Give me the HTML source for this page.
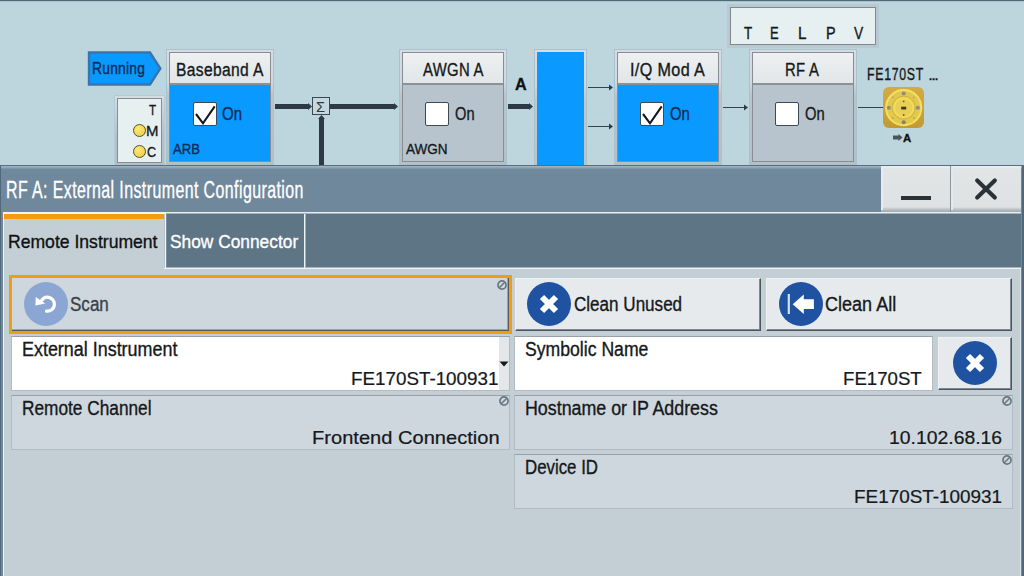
<!DOCTYPE html>
<html>
<head>
<meta charset="utf-8">
<title>RF A: External Instrument Configuration</title>
<style>
html,body{margin:0;padding:0;}
body{width:1024px;height:576px;overflow:hidden;position:relative;background:#bdd6de;font-family:"Liberation Sans",sans-serif;color:#15191c;}
.abs{position:absolute;}
.t{position:absolute;white-space:nowrap;line-height:1;transform-origin:0 0;}
.tr{position:absolute;white-space:nowrap;line-height:1;transform-origin:100% 0;text-align:right;}
/* block diagram */
.blk{position:absolute;top:50px;height:114px;width:106px;margin-left:1px;box-sizing:border-box;border:2px solid transparent;background:linear-gradient(#888d94,#888d94) padding-box,linear-gradient(to bottom,#d4dde3 0,#d0d9df 28%,#b9c4cb 40%,#b4c0c7 100%) border-box;box-shadow:0 0 0 1px #abc2cc;}
.blk .hd{position:absolute;left:1px;top:1px;right:1px;height:30px;background:linear-gradient(#eef0f1,#e2e6e8);}
.blk .sep{position:absolute;left:1px;right:1px;top:31px;height:2px;background:#8b9196;}
.blk .bd{position:absolute;left:1px;right:1px;top:33px;bottom:1px;}
.blue{background:#0a99fe;}
.grey{background:#b7c4ce;}
.cb{position:absolute;width:24px;height:24px;background:#fff;border:1px solid #3c4a55;border-radius:2px;box-sizing:border-box;}
.thick{position:absolute;background:#2c3a45;}
.thin{position:absolute;background:#33434e;height:1px;}
/* dialog */
#dlg{position:absolute;left:0;top:165px;width:1024px;height:411px;background:#70889c;}
.btn{position:absolute;box-sizing:border-box;background:#e7eaed;border-right:1px solid #4a5760;border-bottom:1px solid #4a5760;border-top:1px solid #eef1f3;border-left:1px solid #eef1f3;box-shadow:inset -1px -1px 0 #7d8890;}
.fld{position:absolute;box-sizing:border-box;border:1px solid #b1bbc2;border-top-color:#98a1a8;background:#cfd7de;}
.fld.w{background:#fff;}
.circ{position:absolute;width:44px;height:44px;border-radius:50%;background:#2052a2;}
.no{position:absolute;width:10px;height:10px;}
</style>
</head>
<body>
<!-- top line -->
<div class="abs" style="left:0;top:0;width:1024px;height:1px;background:#506a77;"></div><div class="abs" style="left:0;top:1px;width:1024px;height:1px;background:#a9c3cc;"></div>

<!-- Running flag -->
<svg class="abs" style="left:86px;top:49px;" width="78" height="40" viewBox="0 0 78 40">
  <path d="M3,3.5 L64,3.5 L74.3,19.5 L64,35.5 L3,35.5 Z" fill="#0a99fe" stroke="#3a74ad" stroke-width="2.4" stroke-linejoin="miter"/>
</svg>

<!-- T M C box -->
<div class="abs" style="left:115px;top:96px;width:49px;height:69px;box-sizing:border-box;border:2px solid transparent;background:linear-gradient(#888d94,#888d94) padding-box,linear-gradient(to bottom,#d4dde3 0,#c4ced4 30%,#b4c0c7 60%) border-box;box-shadow:0 0 0 1px #b3cbd4;"><div style="position:absolute;left:1px;top:1px;right:1px;bottom:1px;background:#e6f0f1;"></div></div>
<div class="abs" style="left:133px;top:124px;width:11px;height:11px;border-radius:50%;background:radial-gradient(circle at 40% 35%,#fde878,#ecc93c);border:1px solid #55522e;"></div>
<div class="abs" style="left:133px;top:145px;width:11px;height:11px;border-radius:50%;background:radial-gradient(circle at 40% 35%,#fde878,#ecc93c);border:1px solid #55522e;"></div>

<!-- Baseband A -->
<div class="blk" style="left:166px;"><div class="hd"></div><div class="sep"></div><div class="bd blue"></div></div>
<div class="cb" style="left:193px;top:102px;"></div>
<svg class="abs" style="left:193px;top:102px;" width="24" height="24" viewBox="0 0 24 24"><path d="M3,12 L10,21.3 L21.7,4.4" fill="none" stroke="#15181b" stroke-width="2.1"/></svg>

<!-- lines baseband -> sigma -> awgn -->
<div class="thick" style="left:275px;top:104px;width:34px;height:5px;"></div>
<svg class="abs" style="left:308px;top:103px;" width="4" height="7" viewBox="0 0 4 7"><path d="M0,0 L4,3.5 L0,7 Z" fill="#2c3a45"/></svg>
<div class="abs" style="left:312px;top:97px;width:18px;height:18px;box-sizing:border-box;border:1.5px solid #3a4852;background:#c4d8de;"></div>
<div class="thick" style="left:330px;top:104px;width:65px;height:5px;"></div>
<svg class="abs" style="left:394px;top:103px;" width="4" height="7" viewBox="0 0 4 7"><path d="M0,0 L4,3.5 L0,7 Z" fill="#2c3a45"/></svg>
<div class="thick" style="left:319px;top:118px;width:5px;height:47px;"></div>
<svg class="abs" style="left:318px;top:115px;" width="7" height="4" viewBox="0 0 7 4"><path d="M0,4 L3.5,0 L7,4 Z" fill="#2c3a45"/></svg>

<!-- AWGN A -->
<div class="blk" style="left:399px;"><div class="hd"></div><div class="sep"></div><div class="bd grey"></div></div>
<div class="cb" style="left:425px;top:102px;"></div>

<!-- A arrow -->
<div class="thick" style="left:508px;top:104px;width:21px;height:5px;"></div>
<svg class="abs" style="left:529px;top:103px;" width="4" height="7" viewBox="0 0 4 7"><path d="M0,0 L4,3.5 L0,7 Z" fill="#2c3a45"/></svg>

<!-- blue rect -->
<div class="abs" style="left:535px;top:50px;width:51px;height:115px;box-sizing:border-box;border:2px solid transparent;border-bottom:none;background:linear-gradient(#0a99fe,#0a99fe) padding-box,linear-gradient(to bottom,#d4dde3 0,#d0d9df 28%,#bfc9d0 45%,#b9c4cb 100%) border-box;box-shadow:0 0 0 1px #abc2cc;"></div>

<!-- thin arrows -->
<div class="thin" style="left:588px;top:87px;width:22px;"></div>
<svg class="abs" style="left:609px;top:84px;" width="4" height="7" viewBox="0 0 4 7"><path d="M0,0.5 L4,3.5 L0,6.5 Z" fill="#2c3a45"/></svg>
<div class="thin" style="left:588px;top:126px;width:22px;"></div>
<svg class="abs" style="left:609px;top:123px;" width="4" height="7" viewBox="0 0 4 7"><path d="M0,0.5 L4,3.5 L0,6.5 Z" fill="#2c3a45"/></svg>

<!-- I/Q Mod A -->
<div class="blk" style="left:614px;"><div class="hd"></div><div class="sep"></div><div class="bd blue"></div></div>
<div class="cb" style="left:640px;top:102px;"></div>
<svg class="abs" style="left:640px;top:102px;" width="24" height="24" viewBox="0 0 24 24"><path d="M3,12 L10,21.3 L21.7,4.4" fill="none" stroke="#15181b" stroke-width="2.1"/></svg>

<div class="thin" style="left:723px;top:107px;width:22px;"></div>
<svg class="abs" style="left:744px;top:104px;" width="4" height="7" viewBox="0 0 4 7"><path d="M0,0.5 L4,3.5 L0,6.5 Z" fill="#2c3a45"/></svg>

<!-- TELPV -->
<div class="abs" style="left:728px;top:5px;width:150px;height:42px;box-sizing:border-box;border:2px solid #bcc8ce;background:#7f898f;box-shadow:0 0 0 1px #b3cbd4;"><div style="position:absolute;left:1px;top:1px;right:1px;bottom:1px;background:#e6f0f1;"></div></div>

<!-- RF A -->
<div class="blk" style="left:749px;"><div class="hd"></div><div class="sep"></div><div class="bd grey"></div></div>
<div class="cb" style="left:775px;top:102px;"></div>

<div class="thin" style="left:858px;top:107px;width:25px;"></div>

<!-- FE icon -->
<svg class="abs" style="left:883px;top:87px;" width="41" height="41" viewBox="0 0 41 41">
  <defs><linearGradient id="gi" x1="0" y1="0" x2="0" y2="1"><stop offset="0" stop-color="#d3ab45"/><stop offset="1" stop-color="#c39936"/></linearGradient></defs>
  <rect x="0" y="0" width="41" height="41" rx="6" ry="6" fill="url(#gi)"/>
  <circle cx="20.7" cy="20.7" r="17.6" fill="#e2c84d" stroke="#f4e05c" stroke-width="2"/>
  <circle cx="20.7" cy="20.7" r="9.6" fill="#e9d054" stroke="#f3de58" stroke-width="1.6"/>
  <ellipse cx="20.7" cy="20.7" rx="11.6" ry="11.6" fill="none" stroke="#cfb042" stroke-width="0.8"/>
  <rect x="18.2" y="19.7" width="5" height="2.8" fill="#3d3a2a"/>
  <circle cx="20.7" cy="6.6" r="2" fill="#8f8a86"/><circle cx="20.7" cy="35.2" r="2" fill="#857f6f"/>
  <circle cx="5.9" cy="20.7" r="2" fill="#8f8a86"/><circle cx="34.8" cy="20.7" r="2" fill="#8f8a86"/>
  <circle cx="9.8" cy="10.5" r="1" fill="#b9a860"/><circle cx="30.9" cy="10.5" r="1" fill="#b9a860"/>
  <circle cx="9.8" cy="31.1" r="1" fill="#b9a860"/><circle cx="30.9" cy="31.1" r="1" fill="#b9a860"/>
  <circle cx="20.7" cy="14.4" r="0.9" fill="#6a6030"/><circle cx="20.7" cy="28" r="0.9" fill="#6a6030"/>
</svg>
<svg class="abs" style="left:893px;top:134px;" width="10" height="7" viewBox="0 0 10 7"><path d="M0,1.6 L5.5,1.6 L5.5,0 L9.6,3.5 L5.5,7 L5.5,5.4 L0,5.4 Z" fill="#4a545c"/></svg>

<!-- DIALOG -->

<div id="dlg">
  <div class="abs" style="left:0;top:0;width:1024px;height:1px;background:#586d7e;"></div><div class="abs" style="left:0;top:1px;width:1024px;height:4px;background:linear-gradient(#a6b7c3,#8fa4b3 40%,#788fa3 75%,#70889c);"></div>
  <!-- min/close -->
  <div class="abs" style="left:881px;top:1px;width:140px;height:46px;background:linear-gradient(#eceeef 0,#e2e5e6 3px,#dfe2e3 41px,#b4babd 44px,#a3a9ad 46px);"></div><div class="abs" style="left:881px;top:1px;width:2px;height:44px;background:#e9eced;"></div><div class="abs" style="left:951px;top:1px;width:2px;height:44px;background:#e6e9ea;"></div>
  <div class="abs" style="left:950px;top:1px;width:1px;height:46px;background:#8f969b;"></div>
  <div class="abs" style="left:901px;top:31px;width:30px;height:4px;background:#2a3238;"></div>
  <svg class="abs" style="left:973px;top:11px;" width="26" height="26" viewBox="0 0 26 26"><path d="M4.2,4.4 L21.8,21.6 M21.8,4.4 L4.2,21.6" stroke="#2a3238" stroke-width="4.2" stroke-linecap="round" fill="none"/></svg>
  <!-- tab bar -->
  <div class="abs" style="left:3px;top:47px;width:1018px;height:57px;background:#5d7585;"></div>
  <div class="abs" style="left:3px;top:47px;width:1018px;height:1px;background:#e8eef2;"></div><div class="abs" style="left:3px;top:48px;width:1018px;height:1px;background:#a3b3be;"></div>
  <!-- content -->
  <div class="abs" style="left:3px;top:104px;width:1018px;height:307px;background:#c4cfd5;"></div>
  <div class="abs" style="left:3px;top:102px;width:1018px;height:1px;background:#a3b3be;"></div>
  <div class="abs" style="left:3px;top:103px;width:1018px;height:1px;background:#eef3f5;"></div>
  <!-- active tab -->
  <div class="abs" style="left:3px;top:47px;width:161px;height:58px;background:#c4cfd5;"></div>
  <div class="abs" style="left:3px;top:47px;width:1px;height:364px;background:#eef3f5;"></div>
  <div class="abs" style="left:164px;top:47px;width:1px;height:56px;background:#b9c6ce;"></div>
  <div class="abs" style="left:165px;top:47px;width:1px;height:57px;background:#f2f5f6;"></div>
  <div class="abs" style="left:166px;top:49px;width:1px;height:53px;background:#7a8f9e;"></div>
  <div class="abs" style="left:3px;top:47px;width:162px;height:2px;background:#f2f5f6;"></div>
  <div class="abs" style="left:4px;top:49px;width:160px;height:5px;background:#f59c0c;"></div>
  <!-- show connector -->
  <div class="abs" style="left:304px;top:49px;width:1px;height:54px;background:#eef3f5;"></div>
  <div class="abs" style="left:305px;top:49px;width:1px;height:53px;background:#9fb0bb;"></div>

  <!-- Scan -->
  <div class="abs" style="left:9px;top:110px;width:503px;height:59px;box-sizing:border-box;border:3px solid #f59c0c;background:#cfd7de;"></div>
  <div class="abs" style="left:12px;top:164px;width:497px;height:1px;background:#98a3ab;"></div><div class="abs" style="left:12px;top:165px;width:497px;height:1px;background:#545b62;"></div>
  <div class="abs" style="left:507px;top:113px;width:1px;height:52px;background:#98a3ab;"></div><div class="abs" style="left:508px;top:113px;width:1px;height:53px;background:#545b62;"></div>
  <div class="circ" style="left:24px;top:117px;width:44px;height:44px;background:#8ba6d2;"></div>
  <svg class="abs" style="left:24px;top:117px;" width="44" height="44" viewBox="0 0 44 44">
    <path d="M16.6,20.6 A7,7 0 1 1 22.6,29.1" fill="none" stroke="#fff" stroke-width="3.3" stroke-linecap="round"/>
    <path d="M11.8,14.9 L11.4,23.4 L21.2,21.5 Z" fill="#fff"/>
  </svg>
  <svg class="no" style="left:497px;top:115px;" viewBox="0 0 10 10"><circle cx="5" cy="5" r="4.05" fill="none" stroke="#687882" stroke-width="1.7"/><path d="M2.2,7.8 L7.8,2.2" stroke="#687882" stroke-width="1.6"/></svg>

  <!-- Clean Unused -->
  <div class="btn" style="left:515px;top:113px;width:246px;height:53px;"></div>
  <div class="circ" style="left:527px;top:117px;"></div>
  <svg class="abs" style="left:527px;top:117px;" width="44" height="44" viewBox="0 0 44 44"><path d="M15,15 L29,29 M29,15 L15,29" stroke="#fff" stroke-width="6" fill="none"/></svg>

  <!-- Clean All -->
  <div class="btn" style="left:766px;top:113px;width:246px;height:53px;"></div>
  <div class="circ" style="left:779px;top:117px;"></div>
  <svg class="abs" style="left:779px;top:117px;" width="44" height="44" viewBox="0 0 44 44">
    <rect x="8.7" y="12" width="2.2" height="20" fill="#d5e0f3"/>
    <path d="M13.7,22.2 L24.8,12.4 L24.8,17.3 L34.9,17.3 L34.9,27.1 L24.8,27.1 L24.8,32 Z" fill="#fff"/>
  </svg>

  <!-- External Instrument -->
  <div class="fld w" style="left:11px;top:171px;width:499px;height:55px;"></div>
  <div class="abs" style="left:499px;top:172px;width:10px;height:53px;background:#e3e7e9;"></div>
  <svg class="abs" style="left:499px;top:196px;" width="10" height="6" viewBox="0 0 10 6"><path d="M0.5,0.5 L9.5,0.5 L5,5.5 Z" fill="#16191b"/></svg>

  <!-- Remote Channel -->
  <div class="fld" style="left:11px;top:230px;width:499px;height:55px;"></div>
  <svg class="no" style="left:499px;top:231px;" viewBox="0 0 10 10"><circle cx="5" cy="5" r="4.05" fill="none" stroke="#687882" stroke-width="1.7"/><path d="M2.2,7.8 L7.8,2.2" stroke="#687882" stroke-width="1.6"/></svg>

  <!-- Symbolic Name -->
  <div class="fld w" style="left:514px;top:171px;width:419px;height:55px;"></div>
  <div class="btn" style="left:938px;top:172px;width:74px;height:53px;"></div>
  <div class="circ" style="left:953px;top:176px;width:44px;height:44px;"></div>
  <svg class="abs" style="left:953px;top:176px;" width="44" height="44" viewBox="0 0 44 44"><path d="M15,15 L29,29 M29,15 L15,29" stroke="#fff" stroke-width="6" fill="none"/></svg>

  <!-- Hostname -->
  <div class="fld" style="left:514px;top:230px;width:499px;height:55px;"></div>
  <svg class="no" style="left:1002px;top:231px;" viewBox="0 0 10 10"><circle cx="5" cy="5" r="4.05" fill="none" stroke="#687882" stroke-width="1.7"/><path d="M2.2,7.8 L7.8,2.2" stroke="#687882" stroke-width="1.6"/></svg>

  <!-- Device ID -->
  <div class="fld" style="left:514px;top:289px;width:499px;height:55px;"></div>
  <svg class="no" style="left:1002px;top:290px;" viewBox="0 0 10 10"><circle cx="5" cy="5" r="4.05" fill="none" stroke="#687882" stroke-width="1.7"/><path d="M2.2,7.8 L7.8,2.2" stroke="#687882" stroke-width="1.6"/></svg>
</div>
<div class="abs" style="left:0;top:166px;width:1px;height:410px;background:#51677a;"></div>
<div class="abs" style="left:1022px;top:166px;width:2px;height:410px;background:#52687a;"></div>
<div class="abs" style="left:1020px;top:269px;width:1px;height:307px;background:#dbe3e7;"></div>
<div class="t" id="t_run" style="left:92.38px;top:60.55px;font-size:16px;color:#0e2a55;-webkit-text-stroke:0.35px #0e2a55;transform:scaleX(0.8613);letter-spacing:0.3px;">Running</div>
<div class="t" id="t_bb" style="left:175.73px;top:61.05px;font-size:18px;color:#15191c;-webkit-text-stroke:0.35px #15191c;transform:scaleX(0.8674);letter-spacing:0.4px;">Baseband A</div>
<div class="t" id="t_on1" style="left:221.90px;top:106.25px;font-size:17.6px;color:#0e2a55;-webkit-text-stroke:0.35px #0e2a55;transform:scaleX(0.8511);">On</div>
<div class="t" id="t_arb" style="left:172.68px;top:140.80px;font-size:15.5px;color:#0e2a55;-webkit-text-stroke:0.35px #0e2a55;transform:scaleX(0.8463);">ARB</div>
<div class="t" id="t_T" style="left:149.49px;top:101.80px;font-size:15.5px;color:#15191c;-webkit-text-stroke:0.35px #15191c;transform:scaleX(0.7535);">T</div>
<div class="t" id="t_M" style="left:146.22px;top:122.80px;font-size:15.5px;color:#15191c;-webkit-text-stroke:0.35px #15191c;transform:scaleX(0.9636);">M</div>
<div class="t" id="t_C" style="left:147.26px;top:143.80px;font-size:15.5px;color:#15191c;-webkit-text-stroke:0.35px #15191c;transform:scaleX(0.8159);">C</div>
<div class="t" id="t_sig" style="left:316.33px;top:99.05px;font-size:15px;color:#2c3a45;-webkit-text-stroke:0.0px #2c3a45;transform:scaleX(0.9787);">Σ</div>
<div class="t" id="t_awgn" style="left:422.61px;top:61.05px;font-size:18px;color:#15191c;-webkit-text-stroke:0.35px #15191c;transform:scaleX(0.8253);letter-spacing:0.4px;">AWGN A</div>
<div class="t" id="t_on2" style="left:455.19px;top:106.25px;font-size:17.6px;color:#15191c;-webkit-text-stroke:0.35px #15191c;transform:scaleX(0.8321);">On</div>
<div class="t" id="t_awgn2" style="left:405.90px;top:140.80px;font-size:15.5px;color:#15191c;-webkit-text-stroke:0.35px #15191c;transform:scaleX(0.8739);">AWGN</div>
<div class="t" id="t_A" style="left:514.64px;top:76.55px;font-size:16px;color:#111;-webkit-text-stroke:0.35px #111;transform:scaleX(1.0067);font-weight:bold;">A</div>
<div class="t" id="t_iq" style="left:630.35px;top:61.05px;font-size:18px;color:#15191c;-webkit-text-stroke:0.35px #15191c;transform:scaleX(0.8978);letter-spacing:0.4px;">I/Q Mod A</div>
<div class="t" id="t_on3" style="left:669.89px;top:106.25px;font-size:17.6px;color:#0e2a55;-webkit-text-stroke:0.35px #0e2a55;transform:scaleX(0.8381);">On</div>
<div class="t" id="t_rf" style="left:785.15px;top:61.05px;font-size:18px;color:#15191c;-webkit-text-stroke:0.35px #15191c;transform:scaleX(0.8242);letter-spacing:0.4px;">RF A</div>
<div class="t" id="t_on4" style="left:804.89px;top:106.25px;font-size:17.6px;color:#15191c;-webkit-text-stroke:0.35px #15191c;transform:scaleX(0.8381);">On</div>
<div class="t" id="t_t2" style="left:743.60px;top:25.55px;font-size:16px;color:#15191c;-webkit-text-stroke:0.35px #15191c;transform:scaleX(0.8377);">T</div>
<div class="t" id="t_e2" style="left:769.92px;top:25.55px;font-size:16px;color:#15191c;-webkit-text-stroke:0.35px #15191c;transform:scaleX(0.8120);">E</div>
<div class="t" id="t_l2" style="left:798.31px;top:25.55px;font-size:16px;color:#15191c;-webkit-text-stroke:0.35px #15191c;transform:scaleX(0.9491);">L</div>
<div class="t" id="t_p2" style="left:825.55px;top:25.55px;font-size:16px;color:#15191c;-webkit-text-stroke:0.35px #15191c;transform:scaleX(0.8997);">P</div>
<div class="t" id="t_v2" style="left:854.45px;top:25.55px;font-size:16px;color:#15191c;-webkit-text-stroke:0.35px #15191c;transform:scaleX(0.8608);">V</div>
<div class="t" id="t_fe" style="left:866.93px;top:66.55px;font-size:16px;color:#15191c;-webkit-text-stroke:0.35px #15191c;transform:scaleX(0.7699);letter-spacing:0.9px;">FE170ST</div>
<div class="t" id="t_fe2" style="left:929.09px;top:70.55px;font-size:11px;color:#15191c;-webkit-text-stroke:0.35px #15191c;transform:scaleX(0.9937);font-weight:bold;">...</div>
<div class="t" id="t_a2" style="left:903.31px;top:132.25px;font-size:11.6px;color:#111;-webkit-text-stroke:0.35px #111;transform:scaleX(0.9814);font-weight:bold;">A</div>
<div class="t" id="t_title" style="left:6.18px;top:179.30px;font-size:23.5px;color:#fff;-webkit-text-stroke:0.35px #fff;transform:scaleX(0.6787);letter-spacing:0.6px;">RF A: External Instrument Configuration</div>
<div class="t" id="t_tab1" style="left:8.21px;top:232.05px;font-size:19px;color:#111;-webkit-text-stroke:0.35px #111;transform:scaleX(0.9253);">Remote Instrument</div>
<div class="t" id="t_tab2" style="left:169.66px;top:232.05px;font-size:19px;color:#fff;-webkit-text-stroke:0.35px #fff;transform:scaleX(0.9123);">Show Connector</div>
<div class="t" id="t_scan" style="left:69.58px;top:295.30px;font-size:19.5px;color:#3b4348;-webkit-text-stroke:0.35px #3b4348;transform:scaleX(0.8740);">Scan</div>
<div class="t" id="t_cu" style="left:573.63px;top:295.30px;font-size:19.5px;color:#15191c;-webkit-text-stroke:0.35px #15191c;transform:scaleX(0.8748);">Clean Unused</div>
<div class="t" id="t_ca" style="left:825.23px;top:295.30px;font-size:19.5px;color:#15191c;-webkit-text-stroke:0.35px #15191c;transform:scaleX(0.9247);">Clean All</div>
<div class="t" id="t_ei" style="left:22.15px;top:340.30px;font-size:19.5px;color:#15191c;-webkit-text-stroke:0.35px #15191c;transform:scaleX(0.9190);">External Instrument</div>
<div class="t" id="t_rc" style="left:22.22px;top:399.30px;font-size:19.5px;color:#15191c;-webkit-text-stroke:0.35px #15191c;transform:scaleX(0.8851);">Remote Channel</div>
<div class="t" id="t_sn" style="left:524.61px;top:340.30px;font-size:19.5px;color:#15191c;-webkit-text-stroke:0.35px #15191c;transform:scaleX(0.9037);">Symbolic Name</div>
<div class="t" id="t_hn" style="left:524.90px;top:399.30px;font-size:19.5px;color:#15191c;-webkit-text-stroke:0.35px #15191c;transform:scaleX(0.9138);">Hostname or IP Address</div>
<div class="t" id="t_di" style="left:524.51px;top:458.30px;font-size:19.5px;color:#15191c;-webkit-text-stroke:0.35px #15191c;transform:scaleX(0.8638);">Device ID</div>
<div class="t" id="t_eiv" style="left:350.99px;top:370.15px;font-size:18.8px;color:#15191c;-webkit-text-stroke:0.22px #15191c;transform:scaleX(1.0010);">FE170ST-100931</div>
<div class="t" id="t_rcv" style="left:311.61px;top:429.15px;font-size:18.8px;color:#15191c;-webkit-text-stroke:0.22px #15191c;transform:scaleX(1.0698);">Frontend Connection</div>
<div class="t" id="t_snv" style="left:842.68px;top:370.15px;font-size:18.8px;color:#15191c;-webkit-text-stroke:0.22px #15191c;transform:scaleX(0.9924);">FE170ST</div>
<div class="t" id="t_hnv" style="left:888.63px;top:429.15px;font-size:18.8px;color:#15191c;-webkit-text-stroke:0.22px #15191c;transform:scaleX(1.0317);">10.102.68.16</div>
<div class="t" id="t_div" style="left:853.97px;top:488.15px;font-size:18.8px;color:#15191c;-webkit-text-stroke:0.22px #15191c;transform:scaleX(1.0061);">FE170ST-100931</div>
</body>
</html>
